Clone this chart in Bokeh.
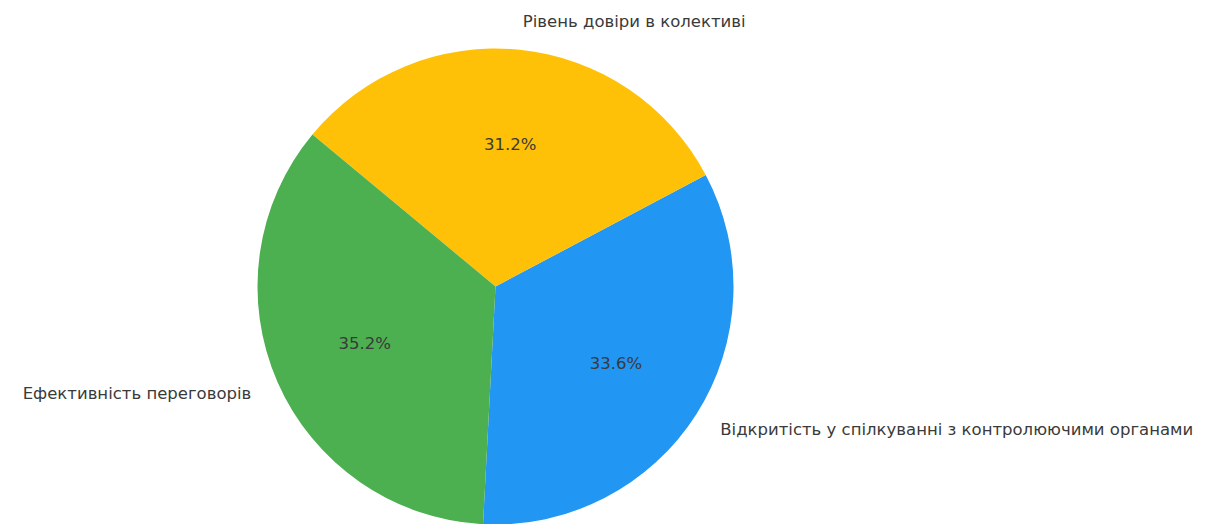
import math
from bokeh.plotting import figure
from bokeh.models import Range1d, ColumnDataSource
from bokeh.core.properties import value
from bokeh.embed import file_html
from bokeh.resources import INLINE

categories = [
    "Відкритість у спілкуванні з контролюючими органами",
    "Рівень довіри в колективі",
    "Ефективність переговорів",
]
counts = [42, 39, 44]
colors = ["#2196F3", "#FFC107", "#4CAF50"]
start_deg = -93.0

W, H = 1208, 524
CX, CY, R = 495, H - 286, 238

total = sum(counts)
starts, ends, pct, lx, ly, la, px, py = [], [], [], [], [], [], [], []
a = start_deg
for c in counts:
    span = 360.0 * c / total
    s, e = a, a + span
    starts.append(math.radians(s))
    ends.append(math.radians(e))
    mid = math.radians((s + e) / 2)
    pct.append(f"{100.0 * c / total:.1f}%")
    lx.append(CX + 1.12 * R * math.cos(mid))
    ly.append(CY + 1.12 * R * math.sin(mid))
    la.append("left" if math.cos(mid) > 0 else "right")
    px.append(CX + 0.6 * R * math.cos(mid))
    py.append(CY + 0.6 * R * math.sin(mid))
    a = e

src = ColumnDataSource(dict(start=starts, end=ends, color=colors, cat=categories,
                            pct=pct, lx=lx, ly=ly, la=la, px=px, py=py))

p = figure(width=W, height=H, x_range=Range1d(0, W), y_range=Range1d(0, H),
           output_backend="svg", toolbar_location=None, min_border=0)
p.axis.visible = False
p.grid.visible = False
p.outline_line_color = None
p.background_fill_color = "white"

p.wedge(x=CX, y=CY, radius=R, start_angle="start", end_angle="end",
        fill_color="color", line_color=None, source=src)

p.text(x="lx", y="ly", text="cat", text_align="la", text_baseline="middle",
       text_font=value("DejaVu Sans"), text_font_size="16.5px", text_color="#3a3a3a",
       source=src)
p.text(x="px", y="py", text="pct", text_align="center", text_baseline="middle",
       text_font=value("DejaVu Sans"), text_font_size="16.5px", text_color="#3a3a3a",
       source=src)

open("out.html", "w").write(file_html(p, INLINE))
